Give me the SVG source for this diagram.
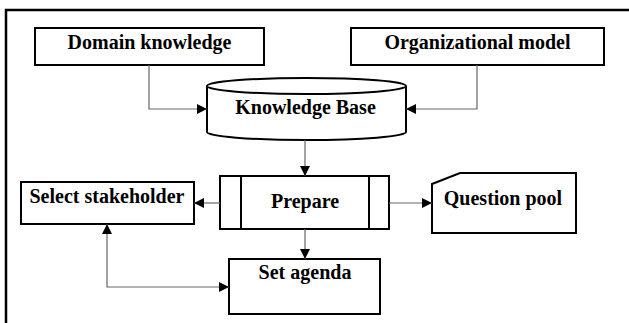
<svg xmlns="http://www.w3.org/2000/svg" width="629" height="323" viewBox="0 0 629 323">
<style>
.box{fill:#fff;stroke:#000;stroke-width:2}
.lbl{font-family:"Liberation Serif","Times New Roman",serif;font-weight:bold;font-size:20px;text-anchor:middle;fill:#000}
.con{fill:none;stroke:#666;stroke-width:1.2}
</style>
<defs>
<marker id="ah" viewBox="0 0 10 10" refX="10" refY="5" markerWidth="10" markerHeight="10" markerUnits="userSpaceOnUse" orient="auto-start-reverse">
<path d="M0,0 L10,5 L0,10 z" fill="#000"/>
</marker>
</defs>
<rect x="6" y="10" width="640" height="330" fill="#fff" stroke="#000" stroke-width="2.5"/>
<g id="domain"><rect class="box" x="35" y="28" width="229" height="37"/><text class="lbl" x="149.5" y="49">Domain knowledge</text></g>
<g id="orgmodel"><rect class="box" x="351" y="28" width="253" height="37"/><text class="lbl" x="477.5" y="49">Organizational model</text></g>
<g id="kb"><path class="box" d="M207,86 L207,132 A99.5,8 0 0 0 406,132 L406,86"/><ellipse class="box" cx="306.5" cy="86" rx="99.5" ry="8"/><text class="lbl" x="305.5" y="114">Knowledge Base</text></g>
<g id="prepare"><rect class="box" x="220" y="176" width="169" height="53"/><line x1="241" y1="176" x2="241" y2="229" stroke="#000" stroke-width="2"/><line x1="369" y1="176" x2="369" y2="229" stroke="#000" stroke-width="2"/><text class="lbl" x="305" y="208">Prepare</text></g>
<g id="stakeholder"><rect class="box" x="21" y="182" width="173" height="42"/><text class="lbl" x="107" y="203">Select stakeholder</text></g>
<g id="qpool"><path class="box" d="M432,184 L460,173 L576,173 L576,233 L432,233 z"/><text class="lbl" x="503" y="205">Question pool</text></g>
<g id="agenda"><rect class="box" x="229" y="259" width="151" height="55"/><text class="lbl" x="305" y="279">Set agenda</text></g>
<g id="connectors">
<path class="con" d="M149,65 L149,109 L207,109" marker-end="url(#ah)"/>
<path class="con" d="M477,65 L477,109 L406,109" marker-end="url(#ah)"/>
<path class="con" d="M305,140 L305,176" marker-end="url(#ah)"/>
<path class="con" d="M220,203 L194,203" marker-end="url(#ah)"/>
<path class="con" d="M389,203 L432,203" marker-end="url(#ah)"/>
<path class="con" d="M305,229 L305,259" marker-end="url(#ah)"/>
<path class="con" d="M107,224 L107,287 L229,287" marker-start="url(#ah)" marker-end="url(#ah)"/>
</g>
</svg>
